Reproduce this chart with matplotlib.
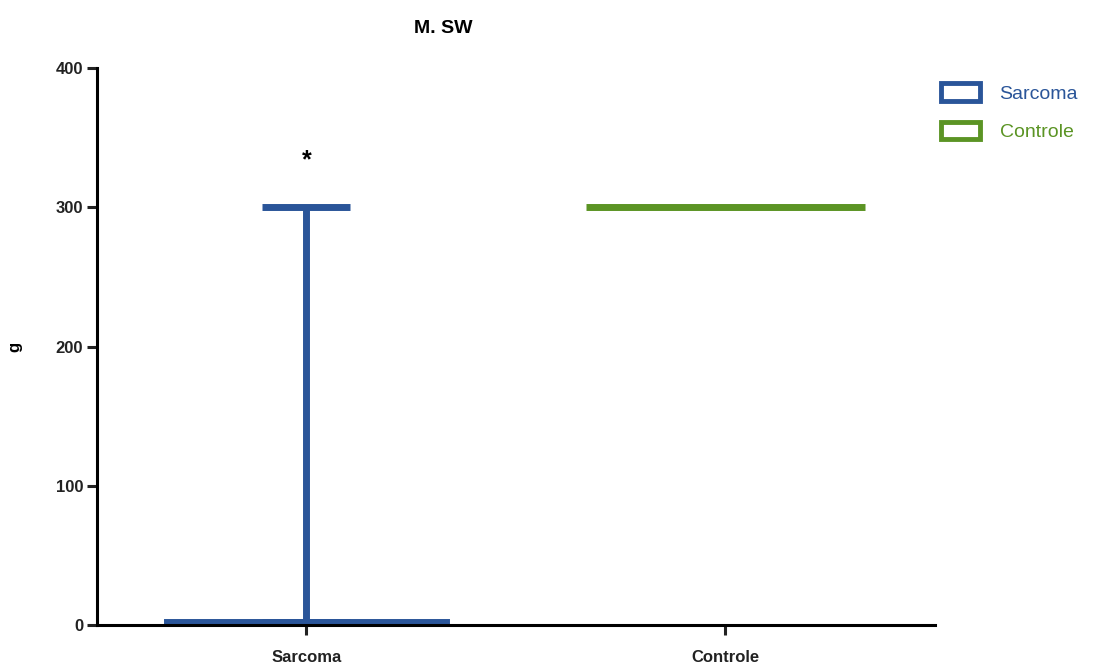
import numpy as np
import matplotlib.pyplot as plt
from matplotlib.patches import Patch

plt.rcParams['font.family'] = ['Liberation Sans', 'DejaVu Sans']

# Dados
grupos = ['Sarcoma', 'Controle']
medias = [2, 300]
erro_sup = [298, 0]
titulo = 'M. SW'
cores = ['#2a5599', '#5b9424']
yticks = [0, 100, 200, 300, 400]

fig = plt.figure(figsize=(11.17, 6.64), dpi=100)
ax = fig.add_axes([0.0868, 0.0587, 0.7502, 0.8389])

x = np.arange(len(grupos))
w = 0.665

# Sarcoma: barra cheia com erro
ax.bar(x[0], medias[0], w, color=cores[0], edgecolor=cores[0], linewidth=5, zorder=2)
ax.errorbar(x[0], medias[0], yerr=[[0], [erro_sup[0]]], fmt='none', ecolor=cores[0],
            elinewidth=5, capsize=31.5, capthick=5, zorder=2)
# Controle: só a linha da média
ax.hlines(medias[1], x[1] - w / 2, x[1] + w / 2, color=cores[1], linewidth=5, zorder=2)

ax.text(x[0], 334, '*', ha='center', va='center', fontsize=18, fontweight='bold')

ax.set_xlim(-0.5, 1.5)
ax.set_ylim(0, 400)
ax.set_yticks(yticks)
ax.set_xticks(x)
ax.set_xticklabels(grupos, fontsize=12, fontweight='bold')
ax.set_yticklabels([str(v) for v in yticks], fontsize=12, fontweight='bold')
ax.set_ylabel('g', fontsize=12, fontweight='bold', labelpad=24)
ax.set_title(titulo, fontsize=14, fontweight='bold', pad=25, x=0.413)

for s in ['top', 'right']:
    ax.spines[s].set_visible(False)
for s in ['left', 'bottom']:
    ax.spines[s].set_linewidth(2.2)
ax.tick_params(width=2.2, length=7, colors='#222222')
ax.tick_params(axis='y', pad=3)
ax.tick_params(axis='x', pad=11)

handles = [Patch(facecolor='white', edgecolor=c, linewidth=3.5) for c in cores]
leg = fig.legend(handles, grupos, loc='upper left', bbox_to_anchor=(0.827, 0.901),
                 frameon=False, fontsize=14, handlelength=2.0, handleheight=1.0,
                 handletextpad=1.0, labelspacing=1.0)
for t, c in zip(leg.get_texts(), cores):
    t.set_color(c)

plt.savefig('out.png', dpi=100)
